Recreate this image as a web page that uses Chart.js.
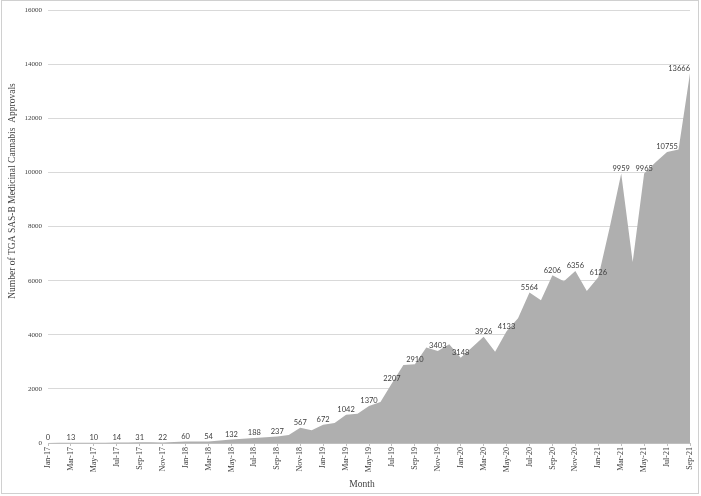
<!DOCTYPE html>
<html>
<head>
<meta charset="utf-8">
<script src="https://cdn.jsdelivr.net/npm/chart.js@4.4.1/dist/chart.umd.min.js"></script>
<style>
  html, body { margin: 0; padding: 0; background: #fff; }
  #wrap { position: relative; width: 701px; height: 496px; }
  #frame { position: absolute; left: 1px; top: 0; width: 696px; height: 492px; border: 1px solid #d0d0d0; pointer-events: none; }
</style>
</head>
<body>
<div id="wrap">
  <canvas id="approvalsChart" width="701" height="496"></canvas>
  <div id="frame"></div>
</div>
<script>
// Month labels, Jan-17 .. Sep-21
const months = [
  'Jan-17','Feb-17','Mar-17','Apr-17','May-17','Jun-17','Jul-17','Aug-17','Sep-17','Oct-17','Nov-17','Dec-17',
  'Jan-18','Feb-18','Mar-18','Apr-18','May-18','Jun-18','Jul-18','Aug-18','Sep-18','Oct-18','Nov-18','Dec-18',
  'Jan-19','Feb-19','Mar-19','Apr-19','May-19','Jun-19','Jul-19','Aug-19','Sep-19','Oct-19','Nov-19','Dec-19',
  'Jan-20','Feb-20','Mar-20','Apr-20','May-20','Jun-20','Jul-20','Aug-20','Sep-20','Oct-20','Nov-20','Dec-20',
  'Jan-21','Feb-21','Mar-21','Apr-21','May-21','Jun-21','Jul-21','Aug-21','Sep-21'
];

const approvals = [
  0, 6, 13, 11, 10, 12, 14, 22, 31, 26, 22, 40,
  60, 57, 54, 90, 132, 160, 188, 210, 237, 300, 567, 470,
  672, 740, 1042, 1080, 1370, 1520, 2207, 2880, 2910, 3530, 3403, 3650,
  3148, 3540, 3926, 3370, 4133, 4610, 5564, 5280, 6206, 5980, 6356, 5620,
  6126, 7980, 9959, 6690, 9965, 10380, 10755, 10850, 13666
];

const yTicks = [0, 2000, 4000, 6000, 8000, 10000, 12000, 14000, 16000];

const yTitle = 'Number of TGA SAS-B Medicinal Cannabis  Approvals';
const xTitle = 'Month';

// value labels above every second point
const pointLabels = {
  id: 'pointLabels',
  afterDatasetsDraw(chart) {
    const meta = chart.getDatasetMeta(0);
    const ctx = chart.ctx;
    ctx.save();
    ctx.font = '7.5px Lato';
    ctx.fillStyle = '#404040';
    ctx.textAlign = 'center';
    ctx.textBaseline = 'middle';
    meta.data.forEach((pt, i) => {
      if (i % 2) return;
      const txt = String(approvals[i]);
      const w = ctx.measureText(txt).width;
      const x = Math.min(pt.x, chart.chartArea.right - w / 2);
      ctx.fillText(txt, x, pt.y - 5);
    });
    ctx.restore();
  }
};

// axis titles, placed like the original
const axisTitles = {
  id: 'axisTitles',
  afterDraw(chart) {
    const ctx = chart.ctx;
    ctx.save();
    ctx.font = '9.5px "Liberation Serif"';
    ctx.fillStyle = '#404040';
    ctx.textAlign = 'center';
    ctx.textBaseline = 'middle';
    ctx.fillText(xTitle, 362, 484);
    ctx.translate(12, 191);
    ctx.rotate(-Math.PI / 2);
    ctx.fillText(yTitle, 0, 0);
    ctx.restore();
  }
};

const ctx = document.getElementById('approvalsChart').getContext('2d');

const approvalsChart = new Chart(ctx, {
  type: 'line',
  data: {
    labels: months,
    datasets: [{
      data: approvals,
      fill: 'origin',
      backgroundColor: '#afafaf',
      borderWidth: 0,
      pointRadius: 0,
      tension: 0
    }]
  },
  options: {
    responsive: false,
    animation: false,
    layout: {
      padding: { top: 10, right: 11, bottom: 0, left: 0 }
    },
    plugins: {
      legend: { display: false },
      tooltip: { enabled: false }
    },
    scales: {
      x: {
        grid: {
          drawOnChartArea: false,
          tickLength: 3,
          color: (c) => (c.index % 2 ? 'rgba(0,0,0,0)' : '#bfbfbf')
        },
        border: { color: '#bfbfbf' },
        ticks: {
          autoSkip: false,
          maxRotation: 90,
          minRotation: 90,
          padding: 1,
          color: '#404040',
          font: { family: '"Liberation Serif"', size: 8 },
          callback: function (value, i) {
            return i % 2 === 0 ? this.getLabelForValue(value) : '';
          }
        },
        afterFit: (scale) => { scale.height = 53; }
      },
      y: {
        min: 0,
        max: 16000,
        afterBuildTicks: (scale) => { scale.ticks = yTicks.map(v => ({ value: v })); },
        grid: { color: '#d9d9d9', drawTicks: false },
        border: { display: false },
        ticks: {
          padding: 6,
          color: '#404040',
          font: { family: '"Liberation Serif"', size: 7 },
          callback: (v) => String(v)
        },
        afterFit: (scale) => { scale.width = 48; }
      }
    }
  },
  plugins: [pointLabels, axisTitles]
});
</script>
</body>
</html>
